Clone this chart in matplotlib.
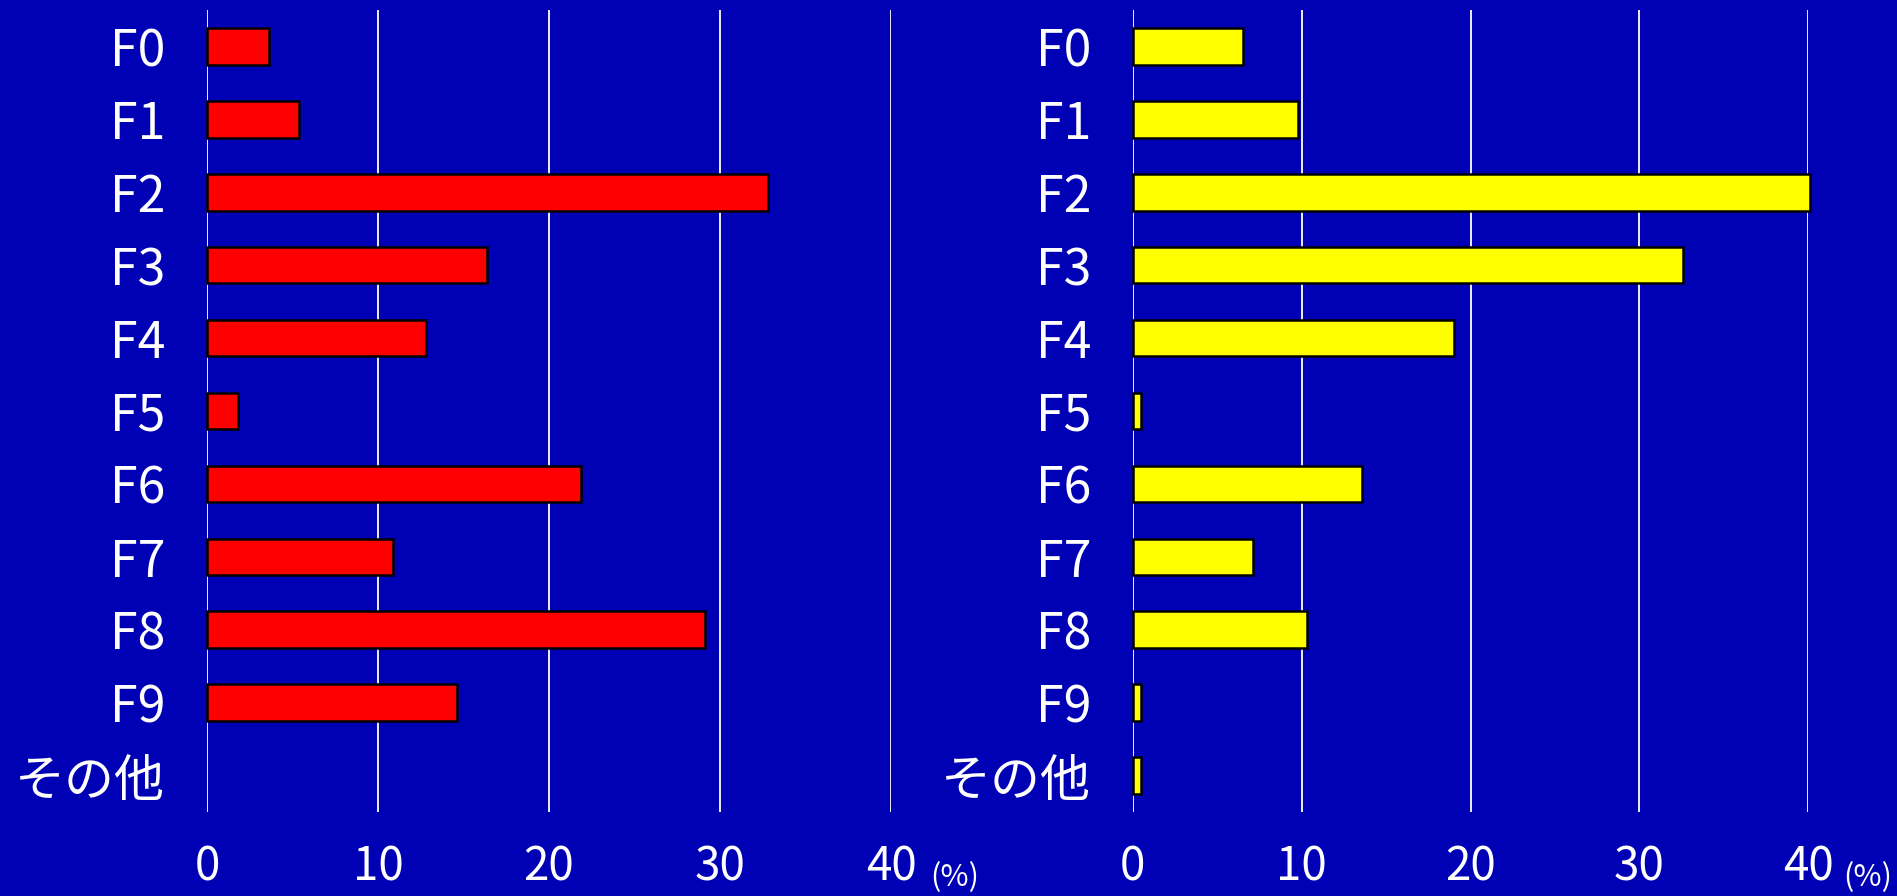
import numpy as np
import matplotlib.pyplot as plt

plt.rcParams['font.family'] = ['Noto Sans CJK JP', 'DejaVu Sans']

# data (%)
categories = ['F0', 'F1', 'F2', 'F3', 'F4', 'F5', 'F6', 'F7', 'F8', 'F9', 'その他']
left_values = [3.6, 5.4, 32.8, 16.4, 12.8, 1.8, 21.9, 10.9, 29.1, 14.6, 0.0]
right_values = [6.5, 9.8, 40.1, 32.6, 19.0, 0.5, 13.6, 7.1, 10.3, 0.5, 0.5]
xticks = [0, 10, 20, 30, 40]

bg = '#0000b4'
fig = plt.figure(figsize=(18.97, 8.96), dpi=100, facecolor=bg)

ax1 = fig.add_axes([0.1091, 0.0938, 0.3606, 0.895])
ax2 = fig.add_axes([0.5971, 0.0938, 0.3562, 0.895])

for ax, vals, col in [(ax1, left_values, '#ff0000'), (ax2, right_values, '#ffff00')]:
    ax.set_facecolor(bg)
    y = np.arange(len(categories))
    lw = [1.8 if v > 0 else 0 for v in vals]
    ax.barh(y, vals, height=0.5, color=col, edgecolor='black', linewidth=lw,
            zorder=3, clip_on=False)
    ax.set_ylim(len(categories) - 0.5, -0.5)
    ax.set_xlim(0, 40)
    ax.set_yticks(y)
    ax.set_yticklabels(categories, fontsize=36, color='white')
    ax.set_xticks(xticks)
    ax.set_xticklabels([str(t) for t in xticks], fontsize=33, color='white')
    ax.tick_params(axis='y', length=0, pad=30)
    ax.tick_params(axis='x', length=0, pad=22)
    ax.grid(axis='x', color='white', linewidth=1.3, zorder=1)
    for s in ax.spines.values():
        s.set_visible(False)

fig.text(955 / 1897, 1 - 878 / 896, '(%)', color='white', fontsize=22,
         ha='center', va='center')
fig.text(1868 / 1897, 1 - 878 / 896, '(%)', color='white', fontsize=22,
         ha='center', va='center')

plt.savefig('out.png', facecolor=bg)
